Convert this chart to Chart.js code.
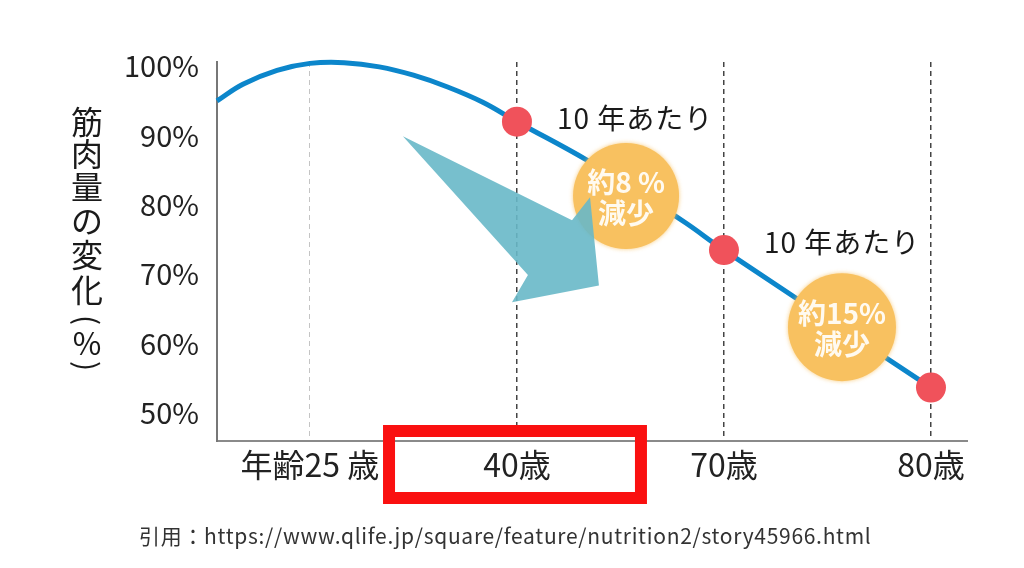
<!DOCTYPE html>
<html lang="ja">
<head>
<meta charset="utf-8">
<script src="https://cdn.jsdelivr.net/npm/chart.js@4/dist/chart.umd.min.js"></script>
<style>
  html, body { margin: 0; padding: 0; background: #fff; }
  #wrap { position: relative; width: 1024px; height: 568px; overflow: hidden; }
  #caption { position: absolute; left: 139px; top: 520px; font: 21px "Noto Sans CJK JP", "Noto Sans", sans-serif; letter-spacing: 0.7px; color: #333; white-space: nowrap; }
</style>
</head>
<body>
<div id="wrap">
  <canvas id="c" width="1024" height="568"></canvas>
  <div id="caption">引用：https://www.qlife.jp/square/feature/nutrition2/story45966.html</div>
</div>
<script>
// ---- data ----
const xLabels = ['年齢25 歳', '40歳', '70歳', '80歳'];
const xTickPos = [0, 1, 2, 3];
const yTicks = [50, 60, 70, 80, 90, 100];
const curveX = [-0.449, -0.324, -0.159, 0, 0.165, 0.335, 0.5, 0.665, 0.835, 1, 1.336, 1.6, 1.816, 2, 3];
const curveY = [95.0, 97.4, 99.4, 100.4, 100.5, 99.9, 98.7, 97.0, 94.8, 92.0, 86.5, 81.6, 77.4, 73.5, 53.7];
const dotX = [1, 2, 3];
const dotY = [92.0, 73.5, 53.7];
const yTitleChars = ['筋', '肉', '量', 'の', '変', '化', '(', '%', ')'];
const noteText = ['10 年あたり', '10 年あたり'];
const bubbleLines = [['約8 %', '減少'], ['約15%', '減少']];

// ---- annotation placement (data units) ----
const noteAt = [{x: 1.193, y: 92.5}, {x: 2.193, y: 74.6}];
const bubbleAt = [{x: 1.527, y: 81.3, r: 53}, {x: 2.57, y: 62.4, r: 54}];
const arrowPts = [[0.449, 89.9], [1.266, 77.8], [1.353, 81.1], [1.396, 68.4], [0.976, 66.0], [1.053, 69.9]];
const boxX = [0.382, 1.599];

const FONT = '"Noto Sans CJK JP", "Noto Sans", sans-serif';

const overlay = {
  id: 'overlay',
  afterDatasetsDraw(chart) {
    const {ctx, chartArea, scales: {x, y}} = chart;
    ctx.save();
    // bubbles
    bubbleAt.forEach(b => {
      ctx.beginPath();
      ctx.arc(x.getPixelForValue(b.x), y.getPixelForValue(b.y), b.r, 0, Math.PI * 2);
      ctx.fillStyle = '#f8c160';
      ctx.shadowColor = 'rgba(248,193,96,0.8)';
      ctx.shadowBlur = 4;
      ctx.fill();
      ctx.shadowBlur = 0;
    });
    // arrow
    ctx.beginPath();
    arrowPts.forEach((p, i) => {
      const px = x.getPixelForValue(p[0]), py = y.getPixelForValue(p[1]);
      if (i === 0) ctx.moveTo(px, py); else ctx.lineTo(px, py);
    });
    ctx.closePath();
    ctx.fillStyle = 'rgba(104,184,200,0.9)';
    ctx.fill();
    // bubble text
    ctx.fillStyle = '#fffaf0';
    ctx.font = 'bold 28px ' + FONT;
    ctx.textAlign = 'center';
    ctx.textBaseline = 'middle';
    bubbleAt.forEach((b, i) => {
      const cx = x.getPixelForValue(b.x), cy = y.getPixelForValue(b.y);
      ctx.fillText(bubbleLines[i][0], cx, cy - 14);
      ctx.fillText(bubbleLines[i][1], cx, cy + 17);
    });
    // notes
    ctx.fillStyle = '#1a1a1a';
    ctx.font = '28px ' + FONT;
    ctx.textAlign = 'left';
    if ('letterSpacing' in ctx) ctx.letterSpacing = '1px';
    noteText.forEach((t, i) => {
      ctx.fillText(t, x.getPixelForValue(noteAt[i].x), y.getPixelForValue(noteAt[i].y));
    });
    if ('letterSpacing' in ctx) ctx.letterSpacing = '0px';
    // y title (vertical, upright characters, rotated parentheses)
    ctx.textAlign = 'center';
    ctx.fillStyle = '#1a1a1a';
    const centers = [122, 154, 187, 221, 255, 290, 320, 343, 366];
    yTitleChars.forEach((ch, i) => {
      if (ch === '(' || ch === ')') {
        ctx.save();
        ctx.translate(87, centers[i]);
        ctx.rotate(Math.PI / 2);
        ctx.font = '30px ' + FONT;
        ctx.fillText(ch, 0, 0);
        ctx.restore();
      } else {
        ctx.font = (ch === '%' ? '31px ' : '32px ') + FONT;
        ctx.fillText(ch, 87, centers[i]);
      }
    });
    // red box
    ctx.strokeStyle = '#fa1010';
    ctx.lineWidth = 12;
    const bx0 = x.getPixelForValue(boxX[0]), bx1 = x.getPixelForValue(boxX[1]);
    ctx.strokeRect(bx0, chartArea.bottom - 10, bx1 - bx0, 67);
    ctx.restore();
  }
};

new Chart(document.getElementById('c'), {
  type: 'line',
  data: {
    datasets: [
      {
        data: dotX.map((v, i) => ({x: v, y: dotY[i]})),
        showLine: false,
        pointRadius: 15,
        pointHoverRadius: 15,
        pointBackgroundColor: '#f0525b',
        pointBorderWidth: 0,
        order: 0
      },
      {
        data: curveX.map((v, i) => ({x: v, y: curveY[i]})),
        borderColor: '#0c86cb',
        borderWidth: 5,
        pointRadius: 0,
        tension: 0.4,
        fill: false,
        clip: false,
        order: 1
      }
    ]
  },
  options: {
    responsive: false,
    animation: false,
    events: [],
    layout: { padding: { top: 62, right: 57, bottom: 0, left: 0 } },
    plugins: { legend: { display: false }, tooltip: { enabled: false } },
    scales: {
      x: {
        type: 'linear',
        min: -0.449,
        max: 3.174,
        afterBuildTicks: s => { s.ticks = xTickPos.map(v => ({value: v})); },
        afterFit: s => { s.height = 127; },
        ticks: {
          callback: (v, i) => xLabels[i],
          color: '#222',
          font: { family: FONT, size: 32 },
          padding: 5,
          maxRotation: 0,
          autoSkip: false
        },
        grid: {
          drawTicks: false,
          color: c => c.index === 0 ? '#c4c4c4' : '#444',
          lineWidth: c => c.index === 0 ? 1 : 1.5
        },
        border: { display: true, color: '#8a8a8a', width: 2, dash: [5, 4] }
      },
      y: {
        type: 'linear',
        min: 46,
        max: 100.6,
        afterBuildTicks: s => { s.ticks = yTicks.map(v => ({value: v})); },
        afterFit: s => { s.width = 217; },
        ticks: {
          callback: v => v + '%',
          color: '#222',
          font: { family: FONT, size: 29 },
          padding: 18
        },
        grid: { display: false, drawTicks: false },
        border: { display: true, color: '#777', width: 2 }
      }
    }
  },
  plugins: [overlay]
});
</script>
</body>
</html>
